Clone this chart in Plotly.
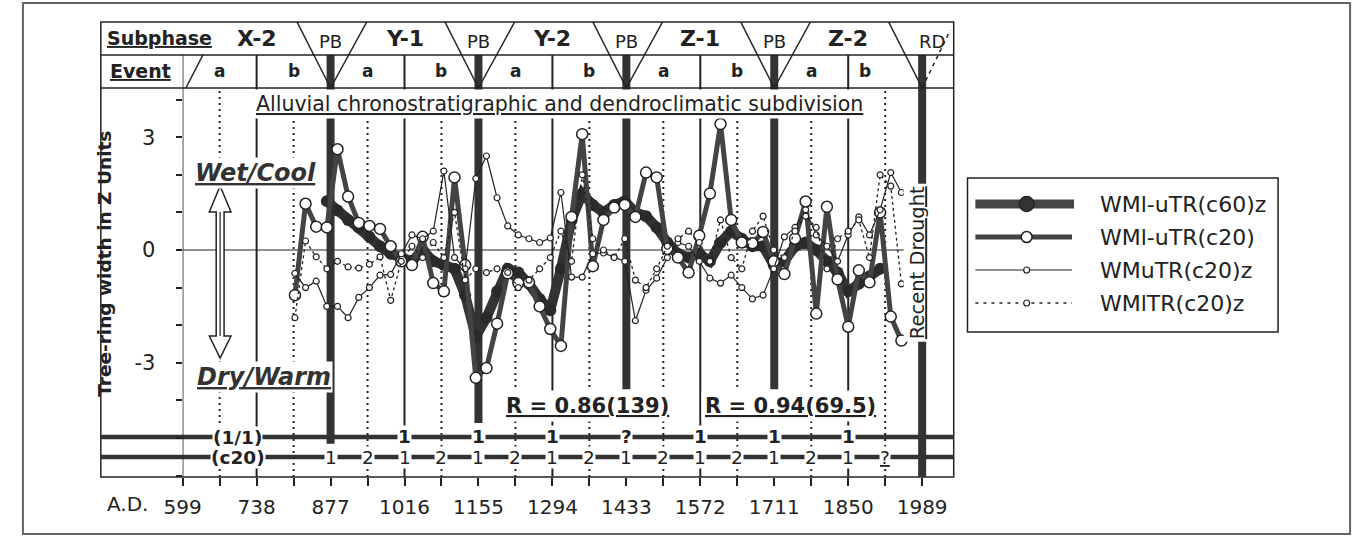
import plotly.graph_objects as go

W, H = 1354, 540
FONT = "DejaVu Sans"
INK = "#222"

# ---------------- data ----------------
YEARS = [810, 830, 850, 870, 890, 910, 930, 950, 970, 990,
         1010, 1030, 1050, 1070, 1090, 1110, 1130, 1150, 1170, 1190,
         1210, 1230, 1250, 1270, 1290, 1310, 1330, 1350, 1370, 1390,
         1410, 1430, 1450, 1470, 1490, 1510, 1530, 1550, 1570, 1590,
         1610, 1630, 1650, 1670, 1690, 1710, 1730, 1750, 1770, 1790,
         1810, 1830, 1850, 1870, 1890, 1910, 1930, 1950]

WML_U_C20 = [-1.2, 1.23, 0.62, 0.6, 2.68, 1.42, 0.72, 0.64, 0.56, 0.1,
             -0.3, -0.4, 0.35, -0.88, -1.1, 1.93, -0.4, -3.4, -3.14, -1.96,
             -0.62, -0.88, -0.86, -1.5, -2.1, -2.55, 0.88, 3.08, -0.43, 0.8,
             1.13, 1.2, 0.88, 2.06, 1.93, 0.03, -0.2, -0.6, 0.38, 1.5,
             3.35, 0.8, 0.2, 0.18, 0.48, -0.3, -0.64, 0.3, 1.29, -1.69,
             1.15, -0.78, -2.04, -0.54, -0.86, 1.0, -1.77, -2.41]

WMU_C20 = [-0.62, -1.0, -0.83, -1.5, -1.5, -1.8, -1.26, -1.0, -0.67, -0.65,
           -0.1, 0.4, 0.3, 0.5, 2.1, -0.2, -0.5, 1.9, 2.5, 1.39,
           0.64, 0.4, 0.3, 0.2, 0.32, 1.53, -0.72, -0.72, -0.1, -0.08,
           -0.19, -0.3, -1.88, -1.07, -0.75, -0.2, 0.2, 0.1, -0.3, -0.75,
           -0.88, -0.67, -1.0, -1.3, -1.2, -0.5, 0.35, 0.6, 1.07, 0.4,
           0.1, -0.3, 0.4, 0.88, 0.4, 1.07, 2.06, 1.53]

WML_C20 = [-1.8, 0.24, -0.18, -0.5, -0.3, -0.45, -0.48, -0.38, -0.18, -1.34,
           -0.3, 0.1, -0.2, 0.2, -0.2, 1.0, -0.8, -0.5, -0.6, -0.5,
           -0.6, -1.0, -0.8, -0.5, -0.2, 0.5, -0.3, 2.0, 0.3, 0.0,
           -0.2, 0.3, -0.8, -1.0, -0.5, 0.1, 0.3, 0.5, 0.2, -0.3,
           0.8, -0.2, -0.5, 0.5, 0.9, 0.0, -0.2, 0.5, 0.9, 0.6,
           -0.5, 0.3, 0.5, 0.8, -0.2, 2.0, 1.7, -0.9]

C60_YEARS = [870, 890, 910, 930, 950, 970, 990, 1010, 1030, 1050,
             1070, 1090, 1110, 1130, 1150, 1170, 1190, 1210, 1230, 1250,
             1270, 1290, 1310, 1330, 1350, 1370, 1390, 1410, 1430, 1450,
             1470, 1490, 1510, 1530, 1550, 1570, 1590, 1610, 1630, 1650,
             1670, 1690, 1710, 1730, 1750, 1770, 1790, 1810, 1830, 1850,
             1870, 1890, 1910]
WML_U_C60 = [1.3, 1.05, 0.8, 0.6, 0.35, 0.1, -0.1, -0.2, -0.3, 0.0,
             -0.3, -0.4, -0.5, -1.2, -2.3, -1.8, -1.1, -0.5, -0.6, -0.9,
             -1.3, -1.6, -0.5, 0.8, 1.5, 1.2, 1.0, 1.2, 1.3, 1.0,
             0.9, 0.6, 0.2, -0.1, -0.2, -0.1, -0.3, 0.2, 0.5, 0.3,
             0.1, 0.1, -0.4, -0.3, 0.1, 0.2, 0.0, -0.3, -0.6, -1.1,
             -0.9, -0.7, -0.5]

SERIES_NAMES = ["WMl-uTR(c60)z", "WMl-uTR(c20)", "WMuTR(c20)z", "WMlTR(c20)z"]

X_TICK_YEARS = [599, 738, 877, 1016, 1155, 1294, 1433, 1572, 1711, 1850, 1989]
X_TICK_LABELS = ["599", "738", "877", "1016", "1155", "1294", "1433", "1572", "1711", "1850", "1989"]
MID_YEARS = [668.5, 807.5, 946.5, 1085.5, 1224.5, 1363.5, 1502.5, 1641.5, 1780.5, 1919.5]
EVENT_DIV_YEARS = [738, 1016, 1294, 1572, 1850]
PB_YEARS = [877, 1155, 1433, 1711]
PB_LINE_BOTTOM = [-5.15, -4.6, -3.7, -3.7]
RD_YEAR = 1989
SUBPHASES = ["X-2", "Y-1", "Y-2", "Z-1", "Z-2"]
EVENT_A_YEARS = [668.5, 946.5, 1224.5, 1502.5, 1780.5]
EVENT_B_YEARS = [807.5, 1085.5, 1363.5, 1641.5, 1882]
Y_TICKS = [-6, -5, -4, -3, -2, -1, 0, 1, 2, 3, 4]
Y_TICK_LABELS = ["", "", "", "-3", "", "", "0", "", "", "3", ""]
ROW1_YEARS = [1016, 1155, 1294, 1433, 1572, 1711, 1850]
ROW1_TEXT = ["1", "1", "1", "?", "1", "1", "1"]
ROW2_YEARS = [877, 946.5, 1016, 1085.5, 1155, 1224.5, 1294, 1363.5,
              1433, 1502.5, 1572, 1641.5, 1711, 1780.5, 1850, 1919.5]
ROW2_TEXT = ["1", "2", "1", "2", "1", "2", "1", "2",
             "1", "2", "1", "2", "1", "2", "1", "<u>?</u>"]

# ---------------- geometry ----------------
X0, X1 = 599, 599 + 782 / (750 / 1390)
Y_TOP, Y_MID, Y_HB, Y_BOT = 6.064, 5.186, 4.309, -6.037
ROW1_Y, ROW2_Y = -4.973, -5.505


def PX(x):
    return x / W


def PY(y):
    return 1 - y / H


fig = go.Figure()

# ---------------- traces ----------------
fig.add_trace(go.Scatter(x=C60_YEARS, y=WML_U_C60, mode="lines+markers",
                         line=dict(color="#333", width=10),
                         marker=dict(size=12, color="#2a2a2a"), name=SERIES_NAMES[0],
                         showlegend=False))
fig.add_trace(go.Scatter(x=YEARS, y=WML_U_C20, mode="lines+markers",
                         line=dict(color="#444", width=5),
                         marker=dict(size=11, color="white", line=dict(color=INK, width=1.5)),
                         name=SERIES_NAMES[1], showlegend=False))
fig.add_trace(go.Scatter(x=YEARS, y=WMU_C20, mode="lines+markers",
                         line=dict(color=INK, width=1.2),
                         marker=dict(size=6, color="white", line=dict(color=INK, width=1.2)),
                         name=SERIES_NAMES[2], showlegend=False))
fig.add_trace(go.Scatter(x=YEARS, y=WML_C20, mode="lines+markers",
                         line=dict(color=INK, width=1.3, dash="dot"),
                         marker=dict(size=6, color="white", line=dict(color=INK, width=1.2)),
                         name=SERIES_NAMES[3], showlegend=False))

shapes = []


def dline(x0, y0, x1, y1, width=1.5, dash="solid", color=INK, layer="below"):
    shapes.append(dict(type="line", xref="x", yref="y", x0=x0, y0=y0, x1=x1, y1=y1,
                       line=dict(color=color, width=width, dash=dash), layer=layer))


def pline(x0, y0, x1, y1, width=1.5, dash="solid", color=INK, layer="above"):
    shapes.append(dict(type="line", xref="paper", yref="paper", x0=PX(x0), y0=PY(y0),
                       x1=PX(x1), y1=PY(y1), line=dict(color=color, width=width, dash=dash),
                       layer=layer))


# outer page border
shapes.append(dict(type="rect", xref="paper", yref="paper", x0=PX(4), y0=PY(534), x1=PX(1350), y1=PY(3),
                   line=dict(color="#666", width=2)))
# chart frame
shapes.append(dict(type="rect", xref="paper", yref="paper", x0=PX(83), y0=PY(477), x1=PX(948), y1=PY(22),
                   line=dict(color=INK, width=1.5), layer="below"))
pline(83, 55, 948, 55, 1.5)
pline(83, 88, 948, 88, 1.5)

# y axis line (through the event row)
dline(X0, Y_BOT, X0, Y_MID, 1.5)
# zero line
dline(X0, 0, 1955, 0, 1.2)
# dotted mid-event lines
for yr in MID_YEARS:
    dline(yr, Y_BOT, yr, Y_HB, 2, dash="2px,4px")
# event divider solid lines
for yr in EVENT_DIV_YEARS:
    dline(yr, Y_BOT, yr, Y_MID, 2)
# thick PB lines
for yr, yb in zip(PB_YEARS, PB_LINE_BOTTOM):
    dline(yr, yb, yr, Y_MID, 8, color="#333")
dline(RD_YEAR, Y_BOT, RD_YEAR, Y_MID, 8, color="#333")

# header V shapes
for yr in PB_YEARS:
    dline(yr - 63, Y_TOP, yr, Y_HB, 1.5, layer="above")
    dline(yr, Y_HB, yr + 68, Y_TOP, 1.5, layer="above")
dline(605, Y_HB, 637, Y_MID, 1.5, layer="above")
dline(RD_YEAR - 63, Y_TOP, RD_YEAR, Y_HB, 1.5, layer="above")
dline(RD_YEAR, Y_HB, 2042, 5.85, 1.5, dash="4px,4px", layer="above")

# bottom rows
pline(83, 437, 948, 437, 4.5, color="#333", layer="below")
pline(83, 457, 948, 457, 4.5, color="#333", layer="below")

# double arrow
pts = [(204, 186), (215, 212), (208, 212), (208, 336), (215, 336), (204, 358),
       (193, 336), (200, 336), (200, 212), (193, 212)]
path = "M " + " L ".join(f"{PX(x):.5f},{PY(y):.5f}" for x, y in pts) + " Z"
shapes.append(dict(type="path", xref="paper", yref="paper", path=path,
                   fillcolor="white", line=dict(color=INK, width=1.5), layer="above"))
pline(204, 212, 204, 336, 1.2)

# legend box & samples
shapes.append(dict(type="rect", xref="paper", yref="paper", x0=PX(962), y0=PY(332), x1=PX(1277), y1=PY(178),
                   line=dict(color=INK, width=1.5)))
LEG_Y = [204, 237, 270, 303]
pline(970, LEG_Y[0], 1070, LEG_Y[0], 9, color="#444")
pline(970, LEG_Y[1], 1068, LEG_Y[1], 5, color="#444")
pline(970, LEG_Y[2], 1068, LEG_Y[2], 1.2)
pline(970, LEG_Y[3], 1068, LEG_Y[3], 1.3, dash="3px,5px")


def pcircle(cx, cy, r, fill, lw=1.3):
    shapes.append(dict(type="circle", xref="paper", yref="paper",
                       x0=PX(cx - r), x1=PX(cx + r), y0=PY(cy + r), y1=PY(cy - r),
                       fillcolor=fill, line=dict(color=INK, width=lw)))


pcircle(1022, LEG_Y[0], 7.5, "#333")
pcircle(1022, LEG_Y[1], 5.5, "white", 1.5)
pcircle(1022, LEG_Y[2], 3, "white", 1.2)
pcircle(1022, LEG_Y[3], 3, "white", 1.2)

annotations = []


def pann(text, x, y, size, bold=False, italic=False, bg=None, angle=0, xanchor="center",
         color=INK, pad=1):
    t = text
    if bold:
        t = f"<b>{t}</b>"
    if italic:
        t = f"<i>{t}</i>"
    annotations.append(dict(text=t, x=PX(x), y=PY(y), xref="paper", yref="paper",
                            xanchor=xanchor, yanchor="middle", showarrow=False,
                            textangle=angle, bgcolor=bg, borderpad=pad,
                            font=dict(family=FONT, size=size, color=color)))


def dann(text, x, y, size, bold=False, bg=None, pad=1):
    t = f"<b>{text}</b>" if bold else text
    annotations.append(dict(text=t, x=x, y=y, xref="x", yref="y", xanchor="center",
                            yanchor="middle", showarrow=False, bgcolor=bg, borderpad=pad,
                            font=dict(family=FONT, size=size, color=INK)))


# header texts
pann("<u>Subphase</u>", 143, 38, 19, bold=True)
pann("<u>Event</u>", 123, 71, 19, bold=True)
for name, yr in zip(SUBPHASES, EVENT_DIV_YEARS):
    dann(name, yr, 5.63, 22, bold=True)
for yr in PB_YEARS:
    dann("PB", yr, 5.55, 18)
dann("RD", 2008, 5.55, 18)
for yr in EVENT_A_YEARS:
    dann("a", yr, 4.76, 17, bold=True)
for yr in EVENT_B_YEARS:
    dann("b", yr, 4.76, 17, bold=True)

# plot texts
pann("<u>Alluvial chronostratigraphic and dendroclimatic subdivision</u>", 548, 104, 20.5, bg="white", pad=2)
pann("<u>Wet/Cool</u>", 240, 173, 24, bold=True, italic=True, bg="white", color="#333")
pann("<u>Dry/Warm</u>", 248, 377, 24, bold=True, italic=True, bg="white", color="#333")
pann("<u>R = 0.86(139)</u>", 577, 406, 21, bold=True, bg="white", pad=3)
pann("<u>R = 0.94(69.5)</u>", 782, 406, 21, bold=True, bg="white", pad=3)
pann("<u>Recent Drought</u>", 911, 263, 19.5, angle=-90, bg="white", pad=2)
pann("<b>Tree-ring width in Z Units</b>", 86, 264, 18.5, angle=-90)
pann("A.D.", 110, 504, 20)

# bottom row labels
pann("<b>(1/1)</b>", 222, 437, 18.5, bg="white", pad=0)
pann("<b>(c20)</b>", 222, 457, 18.5, bg="white", pad=0)
for yr, t in zip(ROW1_YEARS, ROW1_TEXT):
    dann(t, yr, ROW1_Y, 18.5, bold=True, bg="white", pad=0)
for yr, t in zip(ROW2_YEARS, ROW2_TEXT):
    dann(t, yr, ROW2_Y, 18.5, bg="white", pad=0)

# legend labels
for yy, name in zip(LEG_Y, SERIES_NAMES):
    pann(name, 1094, yy, 22, xanchor="left")

x_ticks = sorted(X_TICK_YEARS + MID_YEARS)
x_text = [X_TICK_LABELS[X_TICK_YEARS.index(v)] if v in X_TICK_YEARS else "" for v in x_ticks]

fig.update_layout(
    width=W, height=H,
    margin=dict(l=0, r=0, t=0, b=0),
    paper_bgcolor="white", plot_bgcolor="white",
    showlegend=False,
    font=dict(family=FONT, color=INK),
    shapes=shapes, annotations=annotations,
    xaxis=dict(domain=[PX(166), PX(948)], range=[X0, X1], showgrid=False, zeroline=False,
               showline=False, ticks="outside", ticklen=8, tickwidth=1.5, tickcolor=INK,
               tickvals=x_ticks, ticktext=x_text, ticklabelstandoff=4,
               tickfont=dict(family=FONT, size=20, color=INK)),
    yaxis=dict(domain=[PY(477), PY(22)], range=[Y_BOT, Y_TOP], showgrid=False, zeroline=False,
               showline=False, ticks="outside", ticklen=6, tickwidth=1.5, tickcolor=INK,
               tickvals=Y_TICKS, ticktext=Y_TICK_LABELS, ticklabelstandoff=16,
               tickfont=dict(family=FONT, size=21, color=INK)),
)

fig.write_html("out.html")
